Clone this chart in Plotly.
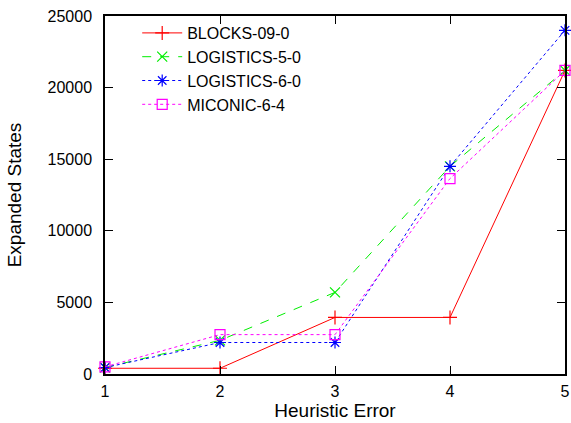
import plotly.graph_objects as go

heuristic_error = [1, 2, 3, 4, 5]
blocks_09_0 = [400, 400, 3950, 3950, 21200]
logistics_5_0 = [450, 2350, 5700, 14500, 21200]
logistics_6_0 = [450, 2200, 2200, 14500, 24000]
miconic_6_4 = [500, 2750, 2750, 13650, 21200]
y_ticks = [0, 5000, 10000, 15000, 20000, 25000]

series = [
    ("BLOCKS-09-0", blocks_09_0, "#ff0000", "solid", "cross-thin-open"),
    ("LOGISTICS-5-0", logistics_5_0, "#00ee00", "dash", "x-thin-open"),
    ("LOGISTICS-6-0", logistics_6_0, "#0000ff", "dot", "asterisk-open"),
    ("MICONIC-6-4", miconic_6_4, "#ff00ff", "dot", "square-open"),
]

fig = go.Figure()
for name, vals, color, dash, sym in series:
    fig.add_trace(go.Scatter(
        x=heuristic_error, y=vals, name=name, mode="lines+markers",
        line=dict(color=color, width=1, dash=dash),
        marker=dict(symbol=sym, size=10, color=color, line=dict(color=color, width=1.2)),
        cliponaxis=False,
    ))

axis_common = dict(
    showline=True, linecolor="black", linewidth=1.5, mirror="ticks",
    ticks="inside", ticklen=8, tickcolor="black", tickwidth=1,
    showgrid=False, zeroline=False, automargin=False,
    ticklabeloverflow="allow",
    tickfont=dict(family="Liberation Sans, Arial", size=16, color="black"),
)

fig.update_layout(
    width=571, height=423,
    margin=dict(l=105, r=6, t=16, b=49),
    paper_bgcolor="white", plot_bgcolor="white",
    font=dict(family="Liberation Sans, Arial", size=16, color="black"),
    xaxis=dict(range=[1, 5], tickvals=heuristic_error, ticklabelstandoff=2,
               title=dict(text="Heuristic Error", standoff=4), **axis_common),
    yaxis=dict(range=[0, 25000], tickvals=y_ticks, tickformat="d",
               ticklabelstandoff=8,
               title=dict(text="Expanded States", standoff=21), **axis_common),
    legend=dict(x=0.07, y=1.0, xanchor="left", yanchor="top",
                bgcolor="rgba(0,0,0,0)", font=dict(size=16),
                tracegroupgap=0, itemwidth=40),
    showlegend=True,
)

fig.write_html("out.html", config={"displayModeBar": False},
               post_script="document.body.style.margin='0';")
